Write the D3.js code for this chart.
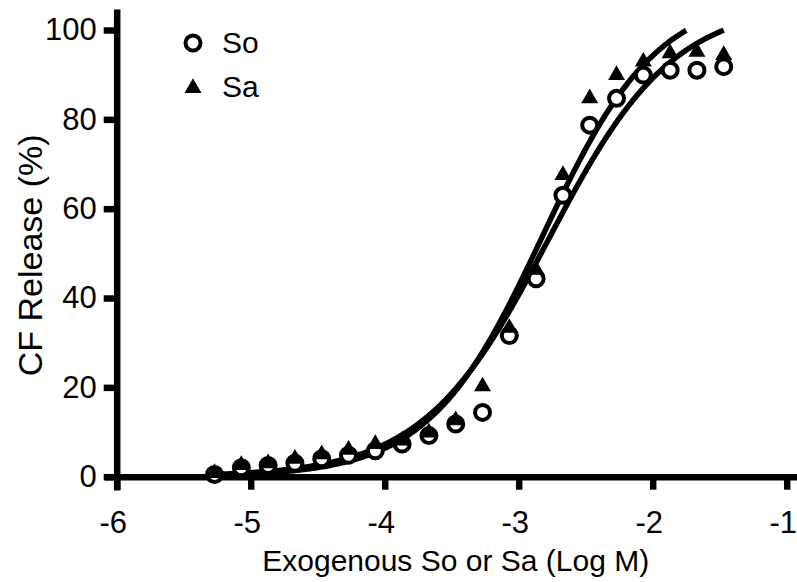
<!DOCTYPE html>
<html>
<head>
<meta charset="utf-8">
<script src="https://cdn.jsdelivr.net/npm/d3@7"></script>
<style>
  body { margin: 0; background: #fff; }
  text { font-family: "Liberation Sans", Arial, sans-serif; fill: #000; }
</style>
</head>
<body>
<svg id="chart" width="797" height="582"></svg>
<script>
// log concentration (Log M)
const logConc = [-5.27, -5.07, -4.87, -4.67, -4.47, -4.27, -4.07, -3.87, -3.67, -3.47,
  -3.27, -3.07, -2.87, -2.67, -2.47, -2.27, -2.07, -1.87, -1.67, -1.47];
// CF release (%)
const soValues = [0.5, 2.0, 2.5, 3.0, 4.0, 4.8, 5.8, 7.3, 9.2, 11.8,
  14.4, 31.6, 44.3, 63.0, 78.7, 84.7, 89.9, 91.0, 91.0, 91.8];
const saValues = [0.8, 2.6, 3.0, 4.0, 5.0, 6.0, 7.3, 8.1, 9.9, 12.6,
  20.2, 33.3, 46.3, 67.5, 84.7, 89.9, 92.9, 94.8, 95.1, 94.4];

// sigmoidal dose-response fits (bottom, top, logEC50, hill slope)
const saFit = { bottom: 0, top: 108, logEC50: -2.82, hill: 1.02 };
const soFit = { bottom: 0, top: 106, logEC50: -2.78, hill: 0.93 };
const fitRange = [-5.3, -1.47];

const xTicks = [-6, -5, -4, -3, -2, -1];
const yTicks = [0, 20, 40, 60, 80, 100];
const xAxisExtent = [-6.09, -0.92];
const yAxisExtent = [-3.0, 104.7];

const legendItems = ["So", "Sa"];

const svg = d3.select("#chart");

const x = d3.scaleLinear().domain([-6, -1]).range([116.7, 786.7]);
const y = d3.scaleLinear().domain([0, 100]).range([476.7, 30]);

const xAxisScale = x.copy().domain(xAxisExtent).range(xAxisExtent.map(x));
const yAxisScale = y.copy().domain(yAxisExtent).range(yAxisExtent.map(y));

const axisWidth = 6.5;
const tickFormat = d => String(d);

// curves
const hill = f => v => f.bottom + (f.top - f.bottom) / (1 + Math.pow(10, (f.logEC50 - v) * f.hill));
const curvePoints = f => d3.range(fitRange[0], fitRange[1] + 1e-9, 0.01)
  .map(v => [v, hill(f)(v)])
  .filter(d => d[1] <= 100);

const line = d3.line().x(d => x(d[0])).y(d => y(d[1]));

svg.append("g")
  .attr("class", "curves")
  .selectAll("path")
  .data([soFit, saFit])
  .join("path")
  .attr("d", f => line(curvePoints(f)))
  .attr("fill", "none")
  .attr("stroke", "#000")
  .attr("stroke-width", 5.5);

// axes
const xAxis = svg.append("g")
  .attr("transform", `translate(0, ${y(0)})`)
  .call(d3.axisBottom(xAxisScale).tickValues(xTicks).tickFormat(tickFormat)
    .tickSize(13).tickSizeOuter(0).tickPadding(21));

const yAxis = svg.append("g")
  .attr("transform", `translate(${x(-6)}, 0)`)
  .call(d3.axisLeft(yAxisScale).tickValues(yTicks).tickFormat(tickFormat)
    .tickSize(13).tickSizeOuter(0).tickPadding(7));

[xAxis, yAxis].forEach(g => {
  g.select(".domain").attr("stroke", "#000").attr("stroke-width", axisWidth);
  g.selectAll(".tick line").attr("stroke", "#000").attr("stroke-width", axisWidth);
  g.selectAll(".tick text")
    .attr("font-size", 31)
    .attr("font-family", "Liberation Sans, Arial, sans-serif")
    .attr("fill", "#000");
});
xAxis.selectAll(".tick text").attr("dx", -4);

// markers
const soData = logConc.map((v, i) => ({ x: v, y: soValues[i] }));
const saData = logConc.map((v, i) => ({ x: v, y: saValues[i] }));

const triangle = d3.symbol().type(d3.symbolTriangle).size(125);

svg.append("g")
  .selectAll("circle")
  .data(soData)
  .join("circle")
  .attr("cx", d => x(d.x))
  .attr("cy", d => y(d.y))
  .attr("r", 7.5)
  .attr("fill", "#fff")
  .attr("stroke", "#000")
  .attr("stroke-width", 4);

svg.append("g")
  .selectAll("path")
  .data(saData)
  .join("path")
  .attr("transform", d => `translate(${x(d.x)}, ${y(d.y)})`)
  .attr("d", triangle)
  .attr("fill", "#000");

// axis titles
svg.append("text")
  .attr("x", (x(-6) + x(-1)) / 2 + 4)
  .attr("y", 571)
  .attr("text-anchor", "middle")
  .attr("font-size", 30)
  .text("Exogenous So or Sa (Log M)");

svg.append("text")
  .attr("transform", `translate(42, ${(y(0) + y(100)) / 2 + 2}) rotate(-90)`)
  .attr("text-anchor", "middle")
  .attr("font-size", 34)
  .text("CF Release (%)");

// legend
const legend = svg.append("g").attr("transform", "translate(193, 43)");
const legendRow = 44;

legend.append("circle")
  .attr("cx", 0)
  .attr("cy", 0)
  .attr("r", 7.5)
  .attr("fill", "#fff")
  .attr("stroke", "#000")
  .attr("stroke-width", 4);

legend.append("path")
  .attr("transform", `translate(0, ${legendRow + 1})`)
  .attr("d", triangle)
  .attr("fill", "#000");

legend.selectAll("text")
  .data(legendItems)
  .join("text")
  .attr("x", 29)
  .attr("y", (d, i) => i * legendRow + 10)
  .attr("font-size", 30)
  .text(d => d);
</script>
</body>
</html>
